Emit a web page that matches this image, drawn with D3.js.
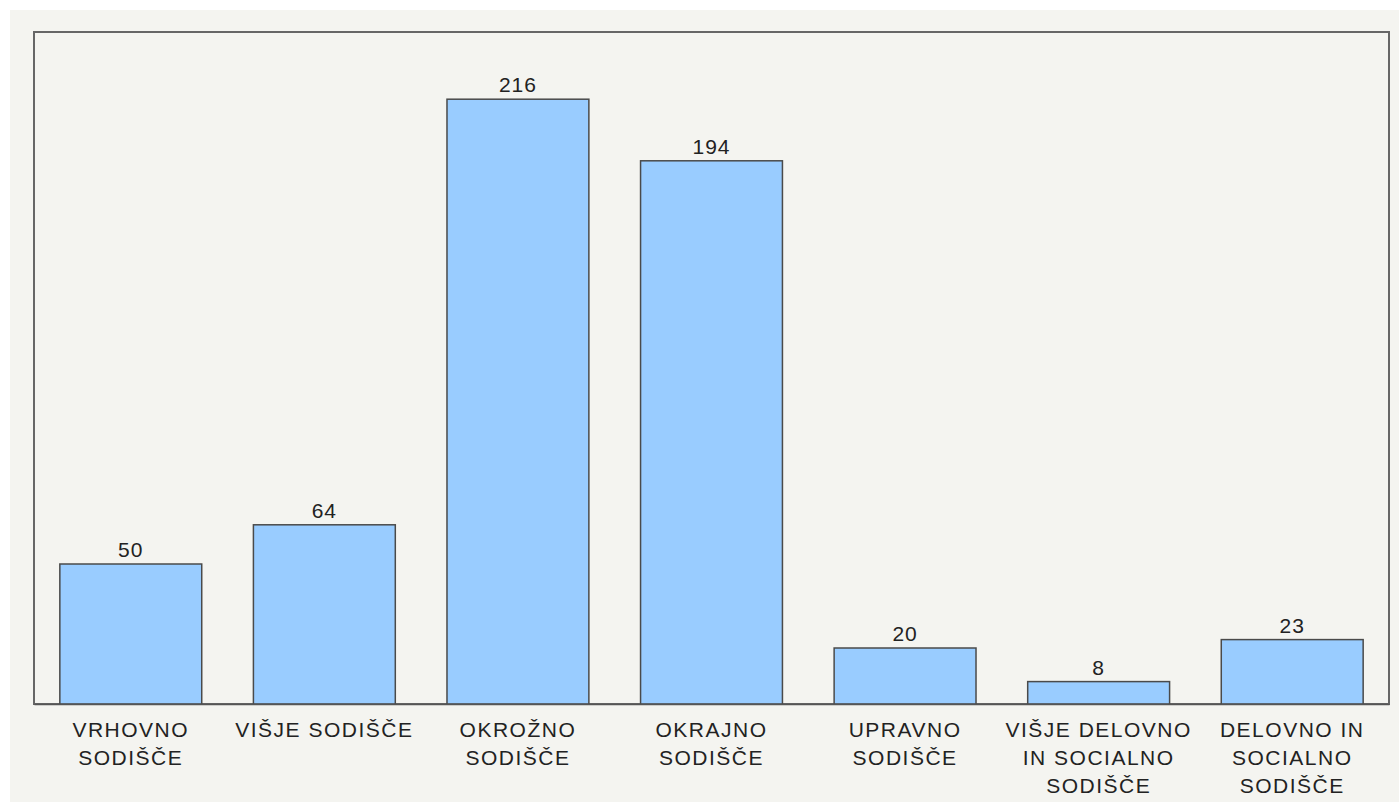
<!DOCTYPE html>
<html>
<head>
<meta charset="utf-8">
<script src="https://cdn.jsdelivr.net/npm/d3@7"></script>
<style>
  html, body { margin: 0; padding: 0; background: #ffffff; }
  svg { display: block; }
</style>
</head>
<body>
<svg id="chart" width="1399" height="802"></svg>
<script>
const categories = [
  "VRHOVNO SODIŠČE",
  "VIŠJE SODIŠČE",
  "OKROŽNO SODIŠČE",
  "OKRAJNO SODIŠČE",
  "UPRAVNO SODIŠČE",
  "VIŠJE DELOVNO IN SOCIALNO SODIŠČE",
  "DELOVNO IN SOCIALNO SODIŠČE"
];
const values = [50, 64, 216, 194, 20, 8, 23];
const tickLabels = [
  ["VRHOVNO", "SODIŠČE"],
  ["VIŠJE SODIŠČE"],
  ["OKROŽNO", "SODIŠČE"],
  ["OKRAJNO", "SODIŠČE"],
  ["UPRAVNO", "SODIŠČE"],
  ["VIŠJE DELOVNO", "IN SOCIALNO", "SODIŠČE"],
  ["DELOVNO IN", "SOCIALNO", "SODIŠČE"]
];
const yMax = 240;

const svg = d3.select("#chart");
const W = 1399, H = 802;
const plot = { left: 34, right: 1389, top: 32, bottom: 704 };

// outer panel
svg.append("rect").attr("x", 10).attr("y", 10).attr("width", W - 10).attr("height", H - 10)
  .attr("fill", "#f4f4f0");

const x = d3.scaleBand().domain(categories).range([plot.left, plot.right])
  .paddingInner(0.267).paddingOuter(0.1335);
const y = d3.scaleLinear().domain([0, yMax]).range([plot.bottom, plot.top]);

// frame
svg.append("rect").attr("x", plot.left).attr("y", plot.top)
  .attr("width", plot.right - plot.left).attr("height", plot.bottom - plot.top)
  .attr("fill", "none").attr("stroke", "#666").attr("stroke-width", 2);

// bars
svg.append("g").selectAll("rect").data(values).join("rect")
  .attr("x", (d, i) => x(categories[i]))
  .attr("y", d => y(d))
  .attr("width", x.bandwidth())
  .attr("height", d => y(0) - y(d))
  .attr("fill", "#99ccff")
  .attr("stroke", "#4a4a4a")
  .attr("stroke-width", 1.5);

// value labels
svg.append("g").selectAll("text").data(values).join("text")
  .attr("x", (d, i) => x(categories[i]) + x.bandwidth() / 2)
  .attr("y", d => y(d) - 7)
  .attr("text-anchor", "middle")
  .attr("font-family", "Liberation Sans, Arial, sans-serif")
  .attr("font-size", 21)
  .attr("letter-spacing", 1)
  .attr("fill", "#222")
  .text(d => d);

// x axis (category labels)
const xAxis = d3.axisBottom(x).tickSize(0).tickPadding(0).tickFormat("");
const gx = svg.append("g").attr("transform", `translate(0,${plot.bottom})`).call(xAxis);
gx.select(".domain").attr("stroke", "#555").attr("stroke-width", 1.5);
gx.selectAll(".tick").each(function(d, i) {
  const t = d3.select(this).append("text")
    .attr("fill", "#222")
    .attr("text-anchor", "middle")
    .attr("font-family", "Liberation Sans, Arial, sans-serif")
    .attr("font-size", 21)
    .attr("letter-spacing", 1.5)
    .attr("y", 33);
  tickLabels[i].forEach((line, k) => {
    t.append("tspan").attr("x", 0).attr("y", 33 + k * 28).text(line);
  });
});
</script>
</body>
</html>
